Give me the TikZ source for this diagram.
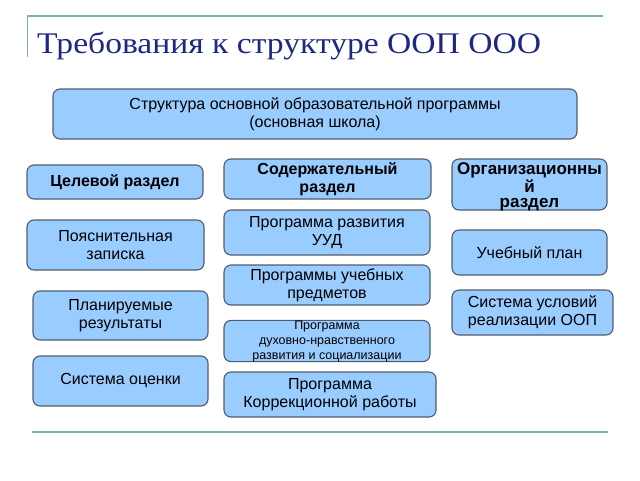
\documentclass[tikz,border=0pt]{standalone}
\usepackage{fontspec}
\setmainfont[FakeStretch=1.12]{Liberation Serif}
\setsansfont{Liberation Sans}
\definecolor{boxfill}{RGB}{153,204,255}
\definecolor{boxdraw}{RGB}{80,92,110}
\definecolor{rulecol}{RGB}{125,178,165}
\definecolor{titlecol}{RGB}{30,40,130}
\begin{document}
\begin{tikzpicture}[x=1pt,y=-1pt,
  box/.style={draw=boxdraw, fill=boxfill, line width=1.1pt, rounded corners=7pt,
    inner sep=0pt, align=center, font=\sffamily\fontsize{16}{18}\selectfont},
  hbox/.style={box, font=\sffamily\fontsize{16}{18}\selectfont\bfseries},
  rulestyle/.style={draw=rulecol, line width=1.4pt}]
\useasboundingbox (0,0) rectangle (640,480);
% rules
\coordinate (tl) at (27,16);
\coordinate (tr) at (603,16);
\coordinate (tv) at (27,57);
\coordinate (bl) at (32,432);
\coordinate (br) at (608,432);
\draw[rulestyle] (tl) -- (tr);
\draw[rulestyle, line width=1pt] (tl) -- (tv);
\draw[rulestyle] (bl) -- (br);
% title
\node[anchor=base west, inner sep=0pt, text=titlecol, font=\rmfamily\fontsize{30}{34}\selectfont] (title) at (37,53) {Требования к структуре ООП ООО};
% main box
\node[box, minimum width=524pt, minimum height=50pt] (main) at (315,114) {Структура основной образовательной программы\\(основная школа)};
% headers
\node[hbox, minimum width=176pt, minimum height=34pt] (goal) at (115,182) {Целевой раздел};
\node[hbox, minimum width=207pt, minimum height=40pt] (content) at (327.5,179) {Содержательный\\раздел};
\node[box, minimum width=155pt, minimum height=51pt] (org) at (529.5,184.5) {};
\node[inner sep=0pt, align=center, font=\sffamily\fontsize{17}{15.5}\selectfont\bfseries] (orgtext) at (529.5,187) {Организационны\\й\\раздел};
% left column
\node[box, minimum width=177pt, minimum height=50pt] (expl) at (115.5,245) {Пояснительная\\записка};
\node[box, minimum width=175pt, minimum height=49pt] (plan) at (120.5,315.5) {Планируемые\\результаты};
\node[box, minimum width=175pt, minimum height=50pt] (eval) at (120.5,381) {Система оценки};
% middle column
\node[box, minimum width=206pt, minimum height=45pt] (uud) at (327,232.5) {Программа развития\\УУД};
\node[box, minimum width=206pt, minimum height=40pt] (subj) at (327,285) {Программы учебных\\предметов};
\node[box, minimum width=206pt, minimum height=38pt, font=\sffamily\fontsize{12.5}{15}\selectfont] (spirit) at (327,341) {Программа\\духовно-нравственного\\развития и социализации};
\node[box, minimum width=212pt, minimum height=45pt] (corr) at (330,394.5) {Программа\\Коррекционной работы};
% right column
\node[box, minimum width=155pt, minimum height=45pt] (curr) at (529.5,252.5) {Учебный план};
\node[box, minimum width=161pt, minimum height=45pt] (cond) at (532.5,312.5) {Система условий\\реализации ООП};
\end{tikzpicture}
\end{document}
